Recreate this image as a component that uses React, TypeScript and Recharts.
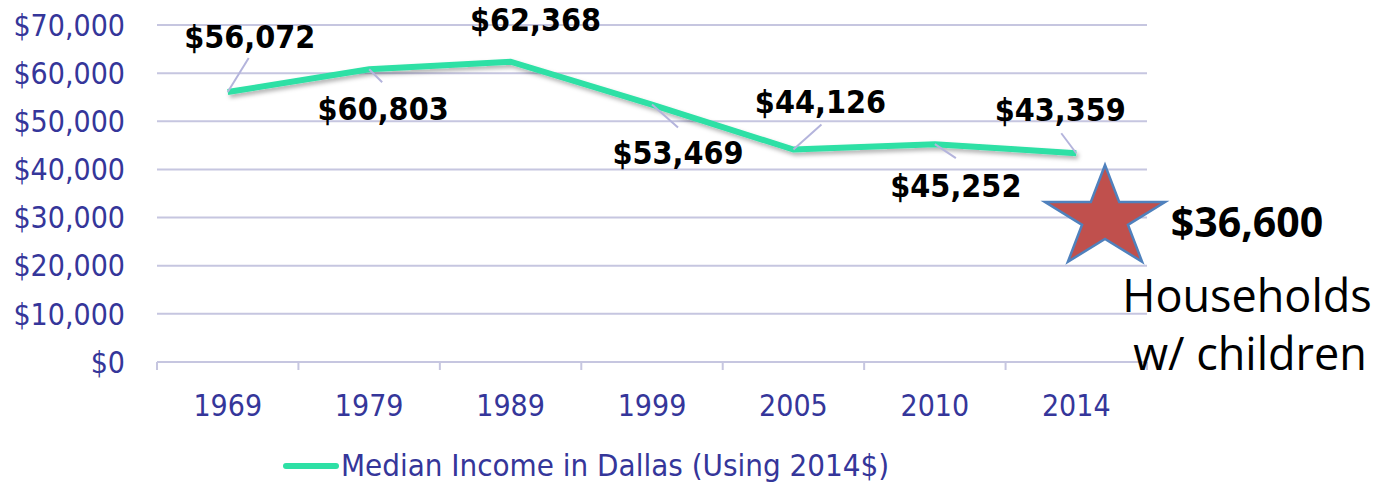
import React from 'react';
import { LineChart, Line, XAxis, YAxis, CartesianGrid, LabelList, Legend } from 'recharts';

const YEARS = ['1969', '1979', '1989', '1999', '2005', '2010', '2014'];
const MEDIAN_INCOME = [56072, 60803, 62368, 53469, 44126, 45252, 43359];
const Y_TICKS = [0, 10000, 20000, 30000, 40000, 50000, 60000, 70000];
const SERIES_NAME = 'Median Income in Dallas (Using 2014$)';
const HIGHLIGHT_VALUE = '$36,600';
const HIGHLIGHT_CAPTION = ['Households', 'w/ children'];

const W = 1379;
const H = 483;
const MARGIN = { top: 25, right: 232, bottom: 0, left: 0 };
const Y_AXIS_W = 157;
const BAND = (W - MARGIN.right - Y_AXIS_W) / YEARS.length;

const NAVY = '#35369a';
const LINE_COLOR = '#2ee0a5';
const GRID = '#c6c6e0';
const LEADER = '#b4b4dc';
const TICK_FONT = '"DejaVu Sans Condensed", "DejaVu Sans", Verdana, sans-serif';

// where each data label sits relative to its point: text centre and leader end
const LABEL_POS = [
  { dx: 22, dy: -56, lx: 21, ly: -34 },
  { dx: 14, dy: 39, lx: 13, ly: 13 },
  { dx: 25, dy: -43, lx: 0, ly: 0 },
  { dx: 26, dy: 47, lx: 26, ly: 23 },
  { dx: 27, dy: -49, lx: 28, ly: -25 },
  { dx: 21, dy: 41, lx: 21, ly: 14 },
  { dx: -16, dy: -44, lx: -15, ly: -20 },
];

const data = YEARS.map((year, i) => ({ year, income: MEDIAN_INCOME[i] }));

const money = (v: number) => '$' + v.toLocaleString('en-US');

function YearTick(props: any) {
  const { x, y, payload, index } = props;
  const left = x - BAND / 2;
  return (
    <g>
      <line x1={left} y1={y} x2={left} y2={y + 8} stroke={GRID} strokeWidth={2} />
      {index === YEARS.length - 1 && (
        <line x1={x + BAND / 2} y1={y} x2={x + BAND / 2} y2={y + 8} stroke={GRID} strokeWidth={2} />
      )}
      <text x={x} y={y + 54} textAnchor="middle" fill={NAVY} fontSize={30} fontFamily={TICK_FONT}>
        {payload.value}
      </text>
    </g>
  );
}

function ValueLabel(props: any) {
  const { x, y, index, value } = props;
  const p = LABEL_POS[index];
  return (
    <g>
      {(p.lx !== 0 || p.ly !== 0) && (
        <line x1={x} y1={y} x2={x + p.lx} y2={y + p.ly} stroke={LEADER} strokeWidth={2} />
      )}
      <text
        x={x + p.dx}
        y={y + p.dy + 12}
        textAnchor="middle"
        fontSize={32}
        fontWeight="bold"
        fontFamily={TICK_FONT}
        fill="#000"
      >
        {money(value)}
      </text>
    </g>
  );
}

function LegendBox() {
  return (
    <div style={{ height: 51, position: 'relative', width: W }}>
      <svg width={W} height={51} style={{ position: 'absolute', left: 0, top: 0 }}>
        <line x1={286} y1={34} x2={336} y2={34} stroke={LINE_COLOR} strokeWidth={6} strokeLinecap="round" />
        <text x={341} y={44} fill={NAVY} fontSize={31} fontFamily={TICK_FONT}>
          {SERIES_NAME}
        </text>
      </svg>
    </div>
  );
}

function starPoints(cx: number, cy: number, r: number, sx: number) {
  const pts: string[] = [];
  for (let i = 0; i < 10; i++) {
    const rad = i % 2 === 0 ? r : r * 0.382;
    const a = -Math.PI / 2 + (i * Math.PI) / 5;
    pts.push(`${cx + Math.cos(a) * rad * sx},${cy + Math.sin(a) * rad}`);
  }
  return pts.join(' ');
}

export default function App() {
  return (
    <div style={{ position: 'absolute', left: 0, top: 0, width: W, height: H, background: '#fff' }}>
      <LineChart width={W} height={H} data={data} margin={MARGIN}>
        <defs>
          <filter id="lineShadow" x="-10%" y="-50%" width="120%" height="200%">
            <feDropShadow dx={2} dy={3} stdDeviation={2} floodColor="#000" floodOpacity={0.3} />
          </filter>
        </defs>
        <CartesianGrid vertical={false} stroke={GRID} strokeWidth={2} />
        <XAxis
          dataKey="year"
          scale="band"
          height={70}
          tickLine={false}
          tickSize={0}
          tickMargin={0}
          axisLine={{ stroke: GRID, strokeWidth: 2 }}
          tick={<YearTick />}
          interval={0}
        />
        <YAxis
          width={Y_AXIS_W}
          domain={[0, 70000]}
          ticks={Y_TICKS}
          axisLine={false}
          tickLine={false}
          tickSize={0}
          tickMargin={32}
          tickFormatter={money}
          tick={{ fill: NAVY, fontSize: 30, fontFamily: TICK_FONT }}
        />
        <Legend verticalAlign="bottom" content={() => <LegendBox />} />
        <Line
          name={SERIES_NAME}
          dataKey="income"
          stroke={LINE_COLOR}
          strokeWidth={6}
          dot={false}
          filter="url(#lineShadow)"
          isAnimationActive={false}
        >
          <LabelList dataKey="income" content={<ValueLabel />} />
        </Line>
      </LineChart>
      <svg width={W} height={H} style={{ position: 'absolute', left: 0, top: 0, pointerEvents: 'none' }}>
        <polygon
          points={starPoints(1105, 218.5, 53.5, 1.18)}
          fill="#c0504d"
          stroke="#4f81bd"
          strokeWidth={2.5}
          strokeLinejoin="miter"
        />
        <text x={1247} y={237} textAnchor="middle" fontSize={41} fontWeight="bold" fontFamily='"Open Sans", sans-serif' fill="#000">
          {HIGHLIGHT_VALUE}
        </text>
        <text x={1247} y={312} textAnchor="middle" fontSize={45} fontFamily='"Open Sans", sans-serif' fill="#000">
          {HIGHLIGHT_CAPTION[0]}
        </text>
        <text x={1250} y={370} textAnchor="middle" fontSize={45} fontFamily='"Open Sans", sans-serif' fill="#000">
          {HIGHLIGHT_CAPTION[1]}
        </text>
      </svg>
    </div>
  );
}
